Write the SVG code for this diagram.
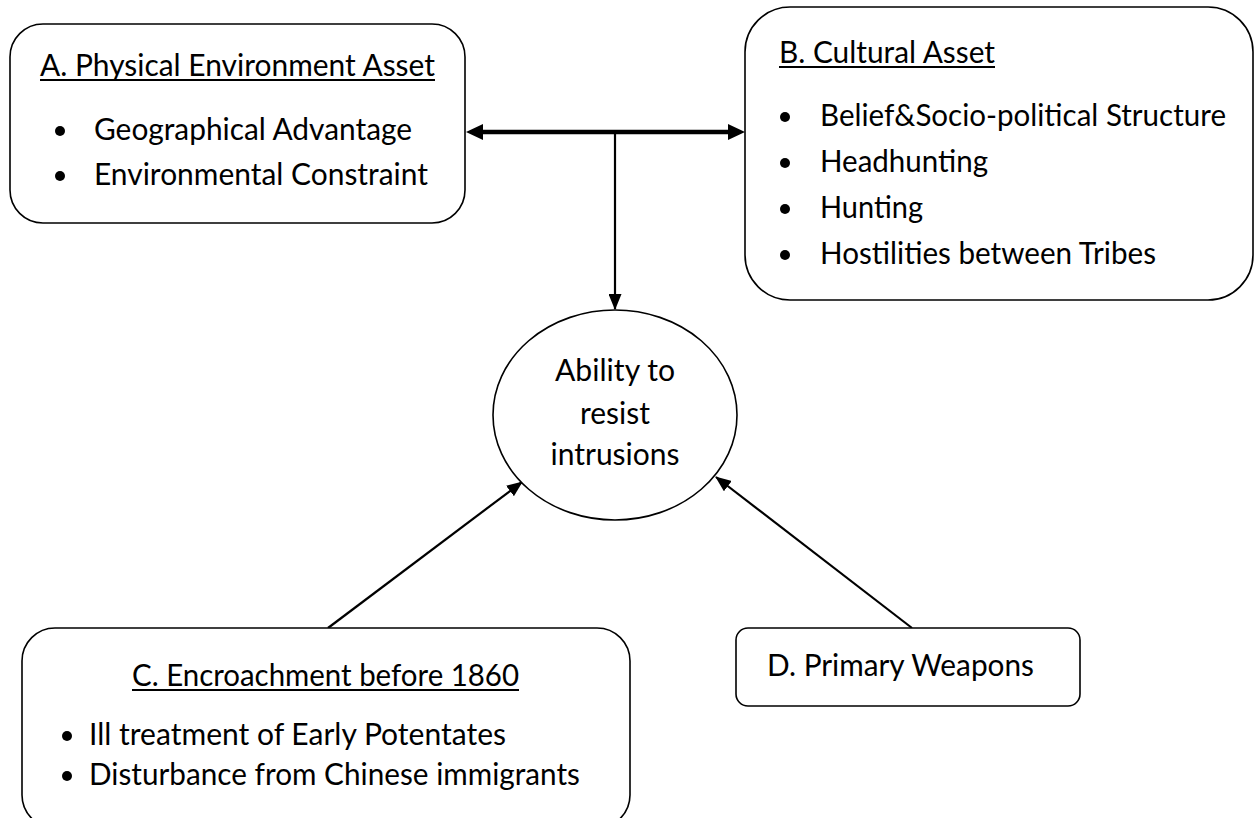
<svg xmlns="http://www.w3.org/2000/svg" width="1258" height="818" viewBox="0 0 1258 818">
<style>
.box{fill:#fff;stroke:#000;stroke-width:1.6}
.t{font-family:Lato,"Open Sans","Liberation Sans",sans-serif;font-size:30px;fill:#000}
.m{text-anchor:middle}
.ul{stroke:#000;stroke-width:1.8}
.dot{fill:#000}
.c{stroke:#000;stroke-width:2.2;fill:none}
.thick{stroke:#000;stroke-width:4.5;fill:none}
</style>
<defs>
<marker id="ah" viewBox="0 0 16 13" refX="15" refY="6.5" markerWidth="16" markerHeight="13" markerUnits="userSpaceOnUse" orient="auto-start-reverse">
<path d="M0,0 L16,6.5 L0,13 z" fill="#000"/>
</marker>
<marker id="ahb" viewBox="0 0 17 16" refX="3" refY="8" markerWidth="17" markerHeight="16" markerUnits="userSpaceOnUse" orient="auto-start-reverse">
<path d="M0,0 L17,8 L0,16 z" fill="#000"/>
</marker>
</defs>
<g id="connectors">
<line class="thick" x1="480" y1="132" x2="731" y2="132" marker-start="url(#ahb)" marker-end="url(#ahb)"/>
<line class="c" x1="615" y1="132" x2="615" y2="309" marker-end="url(#ah)"/>
<line class="c" x1="328" y1="628" x2="522" y2="482" marker-end="url(#ah)"/>
<line class="c" x1="912" y1="628" x2="716" y2="477" marker-end="url(#ah)"/>
</g>
<g id="nodeA">
<rect class="box" x="10" y="24" width="455" height="199" rx="33"/>
<text class="t" x="40" y="76" textLength="395" lengthAdjust="spacingAndGlyphs">A. Physical Environment Asset</text>
<line class="ul" x1="40" y1="80" x2="435" y2="80"/>
<circle class="dot" cx="60" cy="131" r="5"/>
<text class="t" x="94" y="140" textLength="318" lengthAdjust="spacingAndGlyphs">Geographical Advantage</text>
<circle class="dot" cx="60" cy="176" r="5"/>
<text class="t" x="94" y="185" textLength="334" lengthAdjust="spacingAndGlyphs">Environmental Constraint</text>
</g>
<g id="nodeB">
<rect class="box" x="745" y="7" width="508" height="293" rx="45"/>
<text class="t" x="779" y="63" textLength="216" lengthAdjust="spacingAndGlyphs">B. Cultural Asset</text>
<line class="ul" x1="779" y1="67" x2="995" y2="67"/>
<circle class="dot" cx="785" cy="117" r="5"/>
<text class="t" x="820" y="126" textLength="406" lengthAdjust="spacingAndGlyphs">Belief&amp;Socio-political Structure</text>
<circle class="dot" cx="785" cy="163" r="5"/>
<text class="t" x="820" y="172" textLength="168" lengthAdjust="spacingAndGlyphs">Headhunting</text>
<circle class="dot" cx="785" cy="209" r="5"/>
<text class="t" x="820" y="218" textLength="103" lengthAdjust="spacingAndGlyphs">Hunting</text>
<circle class="dot" cx="785" cy="255" r="5"/>
<text class="t" x="820" y="264" textLength="336" lengthAdjust="spacingAndGlyphs">Hostilities between Tribes</text>
</g>
<g id="nodeCenter">
<ellipse class="box" cx="615" cy="415" rx="122" ry="105"/>
<text class="t m" x="615" y="381" textLength="120" lengthAdjust="spacingAndGlyphs">Ability to</text>
<text class="t m" x="615" y="424" textLength="70" lengthAdjust="spacingAndGlyphs">resist</text>
<text class="t m" x="615" y="465" textLength="129" lengthAdjust="spacingAndGlyphs">intrusions</text>
</g>
<g id="nodeC">
<rect class="box" x="22" y="628" width="608" height="200" rx="33"/>
<text class="t" x="132" y="686" textLength="387" lengthAdjust="spacingAndGlyphs">C. Encroachment before 1860</text>
<line class="ul" x1="132" y1="690" x2="519" y2="690"/>
<circle class="dot" cx="67" cy="736" r="5"/>
<text class="t" x="89" y="745" textLength="417" lengthAdjust="spacingAndGlyphs">Ill treatment of Early Potentates</text>
<circle class="dot" cx="67" cy="776" r="5"/>
<text class="t" x="89" y="785" textLength="491" lengthAdjust="spacingAndGlyphs">Disturbance from Chinese immigrants</text>
</g>
<g id="nodeD">
<rect class="box" x="736" y="628" width="344" height="78" rx="12"/>
<text class="t" x="767" y="676" textLength="267" lengthAdjust="spacingAndGlyphs">D. Primary Weapons</text>
</g>
</svg>
